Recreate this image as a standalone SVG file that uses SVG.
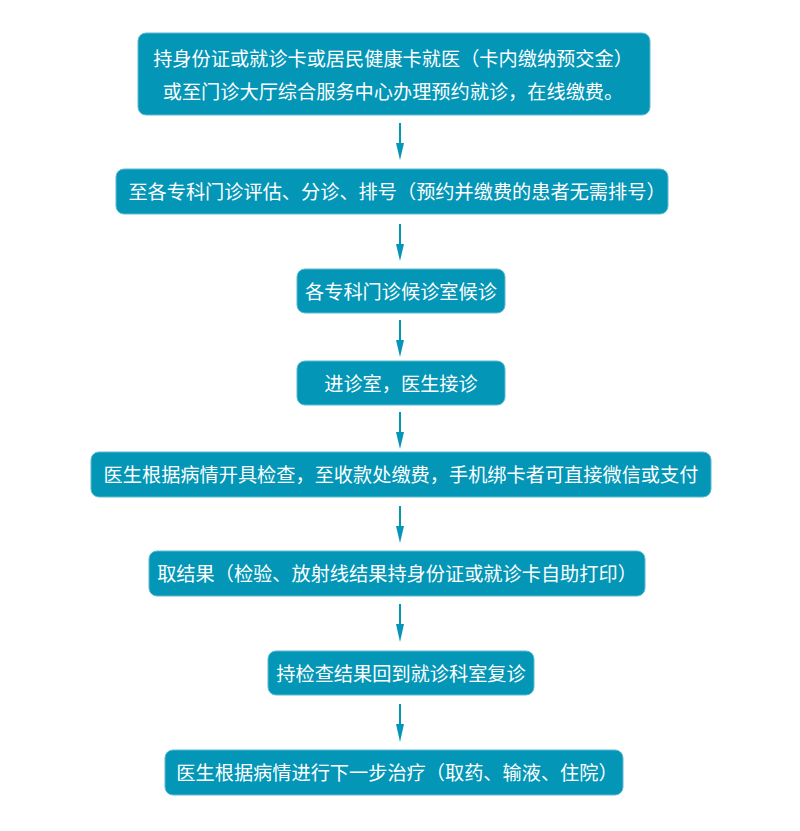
<svg xmlns="http://www.w3.org/2000/svg" width="800" height="831" viewBox="0 0 800 831">
<style>
.box{fill:#0396b7;stroke:#5fb9cf;stroke-width:1}
.t{fill:#ffffff;font-family:"Noto Sans CJK SC","Noto Sans",sans-serif;font-size:19.2px;text-anchor:middle;dominant-baseline:central}
.ln{stroke:#0396b7;stroke-width:2}
.hd{fill:#0396b7}
</style>
<rect width="800" height="831" fill="#ffffff"/>
<g id="connectors">
<line class="ln" x1="400" y1="123" x2="400" y2="143"/>
<polygon class="hd" points="396,143 404,143 400,160"/>
<line class="ln" x1="400" y1="224" x2="400" y2="244"/>
<polygon class="hd" points="396,244 404,244 400,261"/>
<line class="ln" x1="400" y1="320" x2="400" y2="340"/>
<polygon class="hd" points="396,340 404,340 400,357"/>
<line class="ln" x1="400" y1="412" x2="400" y2="432"/>
<polygon class="hd" points="396,432 404,432 400,449"/>
<line class="ln" x1="400" y1="506" x2="400" y2="526"/>
<polygon class="hd" points="396,526 404,526 400,543"/>
<line class="ln" x1="400" y1="604" x2="400" y2="624"/>
<polygon class="hd" points="396,624 404,624 400,642"/>
<line class="ln" x1="400" y1="704" x2="400" y2="724"/>
<polygon class="hd" points="396,724 404,724 400,742"/>
</g>
<g id="n1">
<rect class="box" x="138" y="33" width="512" height="82" rx="8"/>
<text class="t" x="393" y="58">持身份证或就诊卡或居民健康卡就医（卡内缴纳预交金）</text>
<text class="t" x="393" y="91">或至门诊大厅综合服务中心办理预约就诊，在线缴费。</text>
</g>
<g id="n2">
<rect class="box" x="116" y="169" width="552" height="45" rx="8"/>
<text class="t" x="397" y="191">至各专科门诊评估、分诊、排号（预约并缴费的患者无需排号）</text>
</g>
<g id="n3">
<rect class="box" x="297" y="269" width="208" height="44" rx="8"/>
<text class="t" x="401" y="291">各专科门诊候诊室候诊</text>
</g>
<g id="n4">
<rect class="box" x="297" y="361" width="208" height="44" rx="8"/>
<text class="t" x="401" y="383">进诊室，医生接诊</text>
</g>
<g id="n5">
<rect class="box" x="91" y="452" width="620" height="45" rx="8"/>
<text class="t" x="401" y="474">医生根据病情开具检查，至收款处缴费，手机绑卡者可直接微信或支付</text>
</g>
<g id="n6">
<rect class="box" x="149" y="551" width="496" height="45" rx="8"/>
<text class="t" x="397" y="573">取结果（检验、放射线结果持身份证或就诊卡自助打印）</text>
</g>
<g id="n7">
<rect class="box" x="268" y="651" width="266" height="44" rx="8"/>
<text class="t" x="401" y="673">持检查结果回到就诊科室复诊</text>
</g>
<g id="n8">
<rect class="box" x="165" y="750" width="458" height="45" rx="8"/>
<text class="t" x="397" y="772">医生根据病情进行下一步治疗（取药、输液、住院）</text>
</g>
</svg>
